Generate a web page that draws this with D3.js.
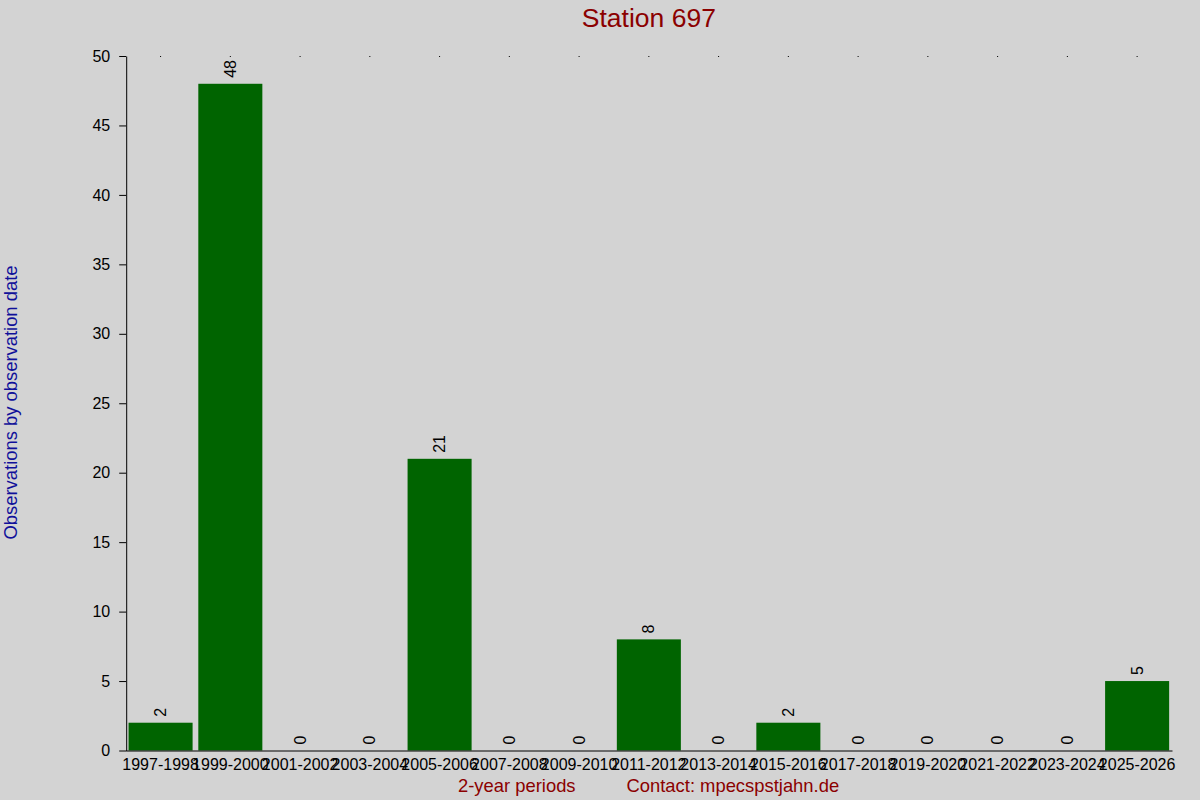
<!DOCTYPE html>
<html>
<head>
<meta charset="utf-8">
<script src="https://cdn.jsdelivr.net/npm/d3@7"></script>
<style>
  body { margin: 0; background: #d3d3d3; }
  svg { display: block; font-family: "Liberation Sans", Arial, sans-serif; }
</style>
</head>
<body>
<div id="chart"></div>
<script>
// Data
const periods = ['1997-1998', '1999-2000', '2001-2002', '2003-2004', '2005-2006',
  '2007-2008', '2009-2010', '2011-2012', '2013-2014', '2015-2016',
  '2017-2018', '2019-2020', '2021-2022', '2023-2024', '2025-2026'];
const counts = [2, 48, 0, 0, 21, 0, 0, 8, 0, 2, 0, 0, 0, 0, 5];
const yTicks = [0, 5, 10, 15, 20, 25, 30, 35, 40, 45, 50];

const width = 1200;
const height = 800;
const margin = { top: 56, right: 28, bottom: 49.5, left: 125.7 };

const svg = d3.select('#chart')
  .append('svg')
  .attr('width', width)
  .attr('height', height);

svg.append('rect')
  .attr('width', width)
  .attr('height', height)
  .attr('fill', '#d3d3d3');

// Scales
const x = d3.scaleBand()
  .domain(periods)
  .range([margin.left, width - margin.right])
  .paddingInner(0.082)
  .paddingOuter(0.041);

const y = d3.scaleLinear()
  .domain([0, 50])
  .range([height - margin.bottom, margin.top]);

// Bars
svg.append('g')
  .selectAll('rect')
  .data(counts)
  .enter()
  .append('rect')
  .attr('x', (d, i) => x(periods[i]))
  .attr('y', (d) => y(d))
  .attr('width', x.bandwidth())
  .attr('height', (d) => y(0) - y(d))
  .attr('fill', '#006400');

// Value labels, rotated
svg.append('g')
  .selectAll('text')
  .data(counts)
  .enter()
  .append('text')
  .attr('transform', (d, i) =>
    `translate(${x(periods[i]) + x.bandwidth() / 2}, ${y(d) - 6}) rotate(-90)`)
  .attr('dy', '0.35em')
  .attr('text-anchor', 'start')
  .attr('font-size', 16)
  .attr('fill', '#000')
  .text((d) => d);

// Y axis
const yAxis = svg.append('g')
  .attr('transform', `translate(${margin.left + 0.5}, 0)`)
  .call(d3.axisLeft(y).tickValues(yTicks).tickSize(7).tickSizeOuter(0).tickPadding(9));
yAxis.selectAll('text').attr('font-size', 16).attr('fill', '#000');
yAxis.selectAll('line, path').attr('stroke', '#000');
yAxis.attr('font-family', null);

// X axis
const xAxis = svg.append('g')
  .attr('transform', `translate(0, ${y(0)})`)
  .call(d3.axisBottom(x).tickSize(0).tickSizeOuter(0).tickPadding(8));
xAxis.selectAll('text').attr('font-size', 16).attr('fill', '#000');
xAxis.select('path').attr('stroke', '#000');
xAxis.attr('font-family', null);

// Tiny mirrored ticks at the top
const topAxis = svg.append('g')
  .attr('transform', `translate(0, ${margin.top})`)
  .call(d3.axisTop(x).tickSize(-1).tickFormat(''));
topAxis.select('path').remove();
topAxis.selectAll('line').attr('stroke', '#000');

// Title and axis titles
svg.append('text')
  .attr('x', (margin.left + width - margin.right) / 2)
  .attr('y', 27)
  .attr('text-anchor', 'middle')
  .attr('font-size', 26.5)
  .attr('fill', '#8b0000')
  .text('Station 697');

svg.append('text')
  .attr('transform', `translate(17, 402.5) rotate(-90)`)
  .attr('text-anchor', 'middle')
  .attr('font-size', 18.4)
  .attr('fill', '#10109a')
  .text('Observations by observation date');

svg.append('text')
  .attr('x', 458)
  .attr('y', 792)
  .attr('font-size', 18.4)
  .attr('fill', '#8b0000')
  .text('2-year periods');

svg.append('text')
  .attr('x', 626.5)
  .attr('y', 792)
  .attr('font-size', 18.4)
  .attr('fill', '#8b0000')
  .text('Contact: mpecspstjahn.de');
</script>
</body>
</html>
